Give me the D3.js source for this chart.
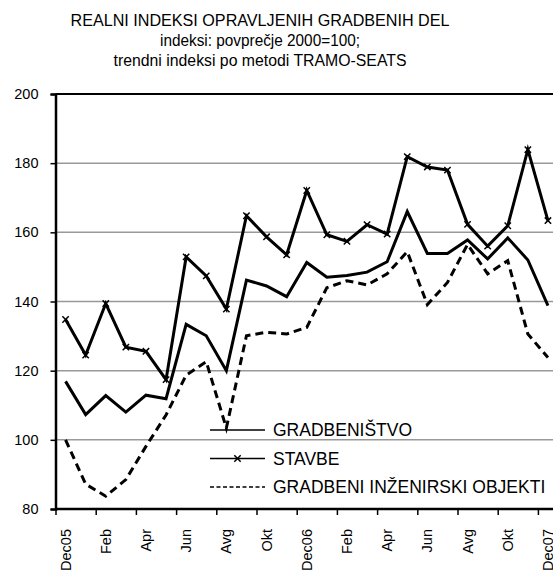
<!DOCTYPE html>
<html>
<head>
<meta charset="utf-8">
<script src="https://cdn.jsdelivr.net/npm/d3@7"></script>
<style>
body { margin:0; background:#fff; }
svg { font-family: "Liberation Sans", Arial, sans-serif; }
</style>
</head>
<body>
<script>
// mesecne oznake, prikazana je vsaka druga
var months = ["Dec05","Jan","Feb","Mar","Apr","Maj","Jun","Jul","Avg","Sep","Okt","Nov",
              "Dec06","Jan","Feb","Mar","Apr","Maj","Jun","Jul","Avg","Sep","Okt","Nov","Dec07"];
var gradbenistvo = [116.9,107.3,112.8,108.0,112.9,111.9,133.4,130.1,120.0,146.2,144.5,141.4,
                    151.3,147.0,147.5,148.5,151.5,166.0,153.9,153.9,157.8,152.3,158.4,152.0,138.8];
var stavbe = [134.8,124.5,139.4,126.8,125.6,117.4,152.9,147.4,137.8,164.8,158.7,153.5,
              172.1,159.3,157.4,162.2,159.5,181.9,178.9,178.0,162.3,156.0,161.9,183.9,163.4];
var objekti = [100.0,87.2,83.7,88.5,98.1,107.2,118.7,122.6,103.4,130.1,131.1,130.6,
               132.5,144.0,146.0,144.8,148.0,154.4,139.1,145.5,156.5,148.0,151.8,130.6,123.8];
var yTicks = [80,100,120,140,160,180,200];
var titleLines = ["REALNI INDEKSI OPRAVLJENIH GRADBENIH DEL",
                  "indeksi: povprečje 2000=100;",
                  "trendni indeksi po metodi TRAMO-SEATS"];
var legendNames = ["GRADBENIŠTVO","STAVBE","GRADBENI INŽENIRSKI OBJEKTI"];

var W = 553, H = 570;
var pLeft = 55.5, pRight = 558, pTop = 94, pBottom = 509;
var titleWidths = [379, 200, 293];

var svg = d3.select("body").append("svg")
	.attr("width", W)
	.attr("height", H);

var idx = months.map(function(d,i){ return i; });
var x = d3.scaleBand().domain(idx).range([pLeft, pRight]).padding(0);
var xEdge = d3.scaleLinear().domain([0, months.length]).range([pLeft, pRight]);
var y = d3.scaleLinear().domain([80,200]).range([pBottom, pTop]);
function cx(i){ return x(i) + x.bandwidth()/2; }

// naslov
svg.selectAll("text.title")
	.data(titleLines)
	.enter().append("text")
		.attr("class","title")
		.attr("x", 260)
		.attr("y", function(d,i){ return 25.5 + i*20.3; })
		.attr("text-anchor","middle")
		.attr("font-size","16px")
		.attr("textLength", function(d,i){ return titleWidths[i]; })
		.attr("lengthAdjust","spacingAndGlyphs")
		.text(function(d){ return d; });

// mreza
svg.selectAll("line.grid")
	.data(yTicks.filter(function(d){ return d>80 && d<200; }))
	.enter().append("line")
		.attr("class","grid")
		.attr("x1", pLeft).attr("x2", W)
		.attr("y1", function(d){ return y(d); })
		.attr("y2", function(d){ return y(d); })
		.attr("stroke","#999")
		.attr("stroke-width",1.5);

// zgornji rob
svg.append("line")
	.attr("x1", pLeft).attr("x2", W)
	.attr("y1", y(200)).attr("y2", y(200))
	.attr("stroke","#000").attr("stroke-width",2);

// os y
var yAxis = svg.append("g")
	.attr("transform","translate(" + pLeft + ",0)")
	.call(d3.axisLeft(y).tickValues(yTicks).tickSize(5).tickPadding(12));
yAxis.select(".domain").attr("stroke-width",2.5);
yAxis.selectAll(".tick line").attr("stroke-width",1.5);
yAxis.selectAll("text").attr("font-size","14.5px").attr("font-family","Liberation Sans, Arial, sans-serif").attr("fill","#000");

// os x - oznake
var xTicksMarks = svg.append("g")
	.attr("transform","translate(0," + pBottom + ")")
	.call(d3.axisBottom(xEdge).tickValues(d3.range(0, months.length+1, 2)).tickSize(6).tickFormat(""));
xTicksMarks.select(".domain").attr("stroke-width",2.5).attr("d","M" + pLeft + ",0H" + W);
xTicksMarks.selectAll(".tick line").attr("stroke-width",1.5);

var xLabels = svg.append("g")
	.attr("transform","translate(0," + pBottom + ")")
	.call(d3.axisBottom(x).tickValues(idx.filter(function(d){ return d%2===0; })).tickSize(0)
		.tickFormat(function(d){ return months[d]; }));
xLabels.select(".domain").remove();
xLabels.selectAll("text")
	.attr("font-size","14.5px")
	.attr("font-family","Liberation Sans, Arial, sans-serif")
	.attr("fill","#000")
	.attr("transform","rotate(-90)")
	.attr("text-anchor","end")
	.attr("x",-20)
	.attr("y",0)
	.attr("dy","0.35em");

// crte
var line = d3.line()
	.x(function(d,i){ return cx(i); })
	.y(function(d){ return y(d); });

svg.append("path")
	.datum(objekti)
	.attr("d", line)
	.attr("fill","none")
	.attr("stroke","#000")
	.attr("stroke-width",3)
	.attr("stroke-dasharray","8,5");

svg.append("path")
	.datum(gradbenistvo)
	.attr("d", line)
	.attr("fill","none")
	.attr("stroke","#000")
	.attr("stroke-width",3);

svg.append("path")
	.datum(stavbe)
	.attr("d", line)
	.attr("fill","none")
	.attr("stroke","#000")
	.attr("stroke-width",3);

var cross = d3.symbol().type(d3.symbolX).size(28);
svg.selectAll("path.mark")
	.data(stavbe)
	.enter().append("path")
		.attr("class","mark")
		.attr("d", cross)
		.attr("transform", function(d,i){ return "translate(" + cx(i) + "," + y(d) + ")"; })
		.attr("fill","none")
		.attr("stroke","#000")
		.attr("stroke-width",1.5);

// legenda
var leg = svg.selectAll("g.leg")
	.data(legendNames)
	.enter().append("g")
		.attr("class","leg")
		.attr("transform", function(d,i){ return "translate(210," + (430 + i*28.5) + ")"; });
leg.append("line")
	.attr("x1",0).attr("x2",55)
	.attr("stroke","#000")
	.attr("stroke-width",1.5)
	.attr("stroke-dasharray", function(d,i){ return i===2 ? "4,2.5" : null; });
leg.filter(function(d,i){ return i===1; }).append("path")
	.attr("d", cross)
	.attr("transform","translate(27.5,0)")
	.attr("fill","none")
	.attr("stroke","#000")
	.attr("stroke-width",1.5);
leg.append("text")
	.attr("x",63)
	.attr("dy","0.36em")
	.attr("font-size","17.5px")
	.text(function(d){ return d; });
</script>
</body>
</html>
